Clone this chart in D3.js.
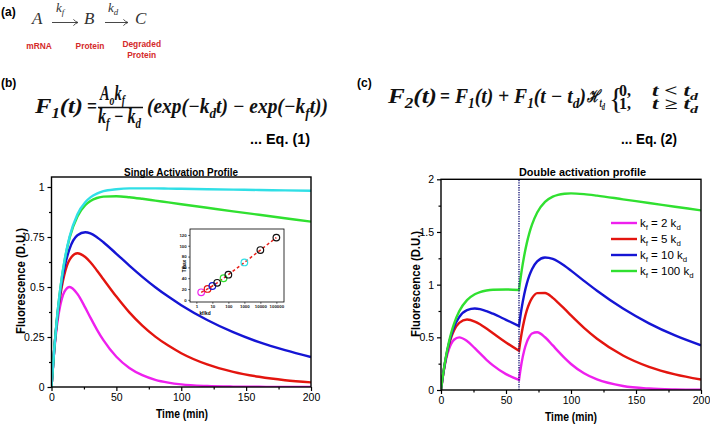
<!DOCTYPE html>
<html><head><meta charset="utf-8">
<script src="https://cdn.jsdelivr.net/npm/d3@7"></script>
<style>
html,body{margin:0;padding:0;background:#fff;}
svg{display:block;font-family:"Liberation Sans",Arial,sans-serif;}
</style></head><body>
<svg id="fig" width="710" height="424"></svg>
<script>
// ---------------- data ----------------
const timeSingle = [0,2,4,6,8,10,14,20,26,30,35,40,50,60,70,80,90,100,120,140,160,180,200];
const single_kf2    = [0,.172,.297,.384,.442,.477,.500,.465,.397,.347,.287,.234,.151,.095,.059,.036,.022,.013,.005,.002,.001,.0002,.0001];
const single_kf5    = [0,.178,.316,.423,.504,.564,.637,.669,.650,.624,.583,.539,.452,.373,.307,.252,.207,.169,.113,.076,.051,.034,.023];
const single_kf10   = [0,.179,.323,.437,.526,.597,.692,.759,.774,.768,.749,.724,.666,.607,.551,.499,.452,.409,.335,.274,.224,.184,.150];
const single_kf100  = [0,.181,.329,.450,.548,.628,.747,.853,.909,.930,.945,.952,.954,.949,.941,.932,.923,.914,.896,.878,.861,.844,.827];
const single_kf1000 = [0,.181,.330,.451,.551,.632,.753,.864,.924,.948,.967,.979,.989,.993,.993,.993,.992,.991,.989,.987,.985,.983,.981];

const timeDouble = [0,2,4,6,8,10,14,20,26,30,35,40,50,60,62,64,66,68,70,74,80,86,90,95,100,110,120,140,160,180,200];
const double_kf2   = [0,.172,.297,.384,.442,.477,.500,.465,.397,.347,.287,.234,.151,.095,.258,.375,.455,.507,.536,.548,.501,.423,.369,.305,.247,.159,.100,.038,.014,.005,.002];
const double_kf5   = [0,.178,.316,.423,.504,.564,.637,.669,.650,.624,.583,.539,.452,.373,.537,.661,.755,.823,.871,.920,.921,.874,.830,.770,.708,.590,.487,.328,.220,.148,.099];
const double_kf10  = [0,.179,.323,.437,.526,.597,.692,.759,.774,.768,.749,.724,.666,.607,.775,.907,1.010,1.088,1.147,1.221,1.258,1.244,1.220,1.179,1.133,1.036,.942,.773,.633,.518,.424];
const double_kf100 = [0,.181,.329,.450,.548,.628,.747,.853,.909,.930,.945,.952,.954,.949,1.129,1.275,1.394,1.491,1.569,1.685,1.786,1.836,1.853,1.863,1.866,1.859,1.845,1.810,1.775,1.740,1.705];
const activationDelay = 60;

const legendRatios = ["2","5","10","100"];

const insetRatio = [2,5,10,20,50,100,1000,10000,100000];
const insetTmax  = [13.9,20.1,25.6,31.5,39.9,46.5,69.1,92.1,115.1];

const timeTicks = [0,50,100,150,200];
const timeMinorTicks = [25,75,125,175];
const singleYTicks = [0,0.25,0.5,0.75,1];
const singleYMinor = [0.125,0.375,0.625,0.875];
const doubleYTicks = [0,0.5,1,1.5,2];
const doubleYMinor = [0.25,0.75,1.25,1.75];
const insetXTicks = [1,10,100,1000,10000,100000];
const insetYTicks = [0,20,40,60,80,100,120];

// ---------------- styles ----------------
const C_MAG="#ee20ee", C_RED="#e3150f", C_BLU="#1515d4", C_GRN="#30e030", C_CYN="#30dfe6";
const singleSeries = [[single_kf2,C_MAG],[single_kf5,C_RED],[single_kf10,C_BLU],[single_kf100,C_GRN],[single_kf1000,C_CYN]];
const doubleSeries = [[double_kf2,C_MAG],[double_kf5,C_RED],[double_kf10,C_BLU],[double_kf100,C_GRN]];
const legendColors = [C_MAG,C_RED,C_BLU,C_GRN];
const insetColors = [C_MAG,C_RED,C_BLU,"#111",C_GRN,"#111",C_CYN,"#111","#111"];
const EQF = "'Liberation Serif','Times New Roman',serif";
const SANS = "'Liberation Sans',Arial,sans-serif";

const svg = d3.select("#fig");

function rich(parent, x, y, parts, o) {
  const size = o.size;
  const t = parent.append("text").attr("x", x).attr("y", y).style("font-size", size+"px");
  t.style("font-family", o.family || SANS);
  if (o.weight) t.style("font-weight", o.weight);
  if (o.style) t.style("font-style", o.style);
  t.attr("fill", o.fill || "#000");
  if (o.anchor) t.attr("text-anchor", o.anchor);
  const sc=o.sc||[1,0.68,0.52], off=o.off||[0,0.26,0.42];
  let prev=0;
  parts.forEach(p => {
    const lvl = p[1]||0;
    const ts = t.append("tspan").text(p[0]).style("font-size", (size*sc[lvl])+"px");
    const dy = (off[lvl]-off[prev])*size;
    if (dy) ts.attr("dy", dy);
    prev=lvl;
  });
  if (o.len) t.attr("textLength", o.len).attr("lengthAdjust","spacingAndGlyphs");
  return t;
}

// ---------------- (a) reaction scheme ----------------
svg.append("text").attr("x",1).attr("y",16).style("font-size","12px").style("font-weight","bold").text("(a)");
const rs = {size:17, family:EQF, style:"italic", fill:"#333"};
rich(svg, 32, 24, [["A"]], rs);
rich(svg, 84, 24, [["B"]], rs);
rich(svg, 135, 24, [["C"]], rs);
const ks = {size:13, family:EQF, style:"italic", fill:"#333"};
rich(svg, 56, 12, [["k"],["f",1]], ks);
rich(svg, 108, 12, [["k"],["d",1]], ks);
[[52,78],[105,128]].forEach(([a,b])=>{
  svg.append("path").attr("d",`M${a},22.5H${b-0.5}M${b-4.5},19.3Q${b-2.5},22 ${b},22.5Q${b-2.5},23 ${b-4.5},25.7`)
    .attr("stroke","#333").attr("stroke-width",0.9).attr("fill","none");
});
const redLab = (x,y,s)=>svg.append("text").attr("x",x).attr("y",y).attr("text-anchor","middle")
  .style("font-size","8.4px").style("font-weight","bold").attr("fill","#d42a2a").text(s);
redLab(39,48.5,"mRNA"); redLab(90,48.5,"Protein"); redLab(141.7,46.5,"Degraded"); redLab(141.7,58,"Protein");

// ---------------- (b)/(c) equations ----------------
svg.append("text").attr("x",1).attr("y",87).style("font-size","12px").style("font-weight","bold").text("(b)");
svg.append("text").attr("x",357).attr("y",87).style("font-size","12px").style("font-weight","bold").text("(c)");
const eq = {size:20, family:EQF, weight:"bold", style:"italic", fill:"#111"};
const eqU = {size:20, family:EQF, weight:"bold", fill:"#111"};
rich(svg, 35, 113, [["F"],["1",1],["(t)"]], {...eq, len:48});
rich(svg, 87, 113, [["="]], {...eqU, len:10});
rich(svg, 100, 100, [["A"],["o",1],["k"],["f",1]], {...eq, len:25});
svg.append("line").attr("x1",98).attr("x2",143).attr("y1",107.5).attr("y2",107.5).attr("stroke","#111").attr("stroke-width",1.4);
rich(svg, 98, 123, [["k"],["f",1],[" − k"],["d",1]], {...eq, len:43});
rich(svg, 147, 113, [["(exp(−k"],["d",1],["t) − exp(−k"],["f",1],["t))"]], {...eq, len:181});
svg.append("text").attr("x",250).attr("y",144).style("font-size","15px").style("font-weight","bold")
  .attr("textLength",60).attr("lengthAdjust","spacingAndGlyphs").text("... Eq. (1)");

rich(svg, 388, 103, [["F"],["2",1],["(t)"]], {...eq, len:49});
rich(svg, 440, 103, [["="]], {...eqU, len:10});
rich(svg, 455, 103, [["F"],["1",1],["(t) + F"],["1",1],["(t − t"],["d",1],[")"]], {...eq, len:131});
rich(svg, 587, 102, [["ℋ"],["t",1],["d",2]], {size:17, family:EQF, weight:"bold", style:"italic", fill:"#111",
  sc:[1,0.72,0.55], off:[0,0.3,0.45], len:18});
svg.append("text").attr("x",609).attr("y",108).style("font-size","29px").style("font-family",EQF).attr("fill","#111").text("{");
const cs = {size:16, family:EQF, weight:"bold", fill:"#111"};
rich(svg, 619, 95.5, [["0,"]], cs);
rich(svg, 619, 108.5, [["1,"]], cs);
rich(svg, 652, 95.5, [["t <  t"],["d",1]], {...cs, style:"italic", len:46});
rich(svg, 652, 108.5, [["t ≥ t"],["d",1]], {...cs, style:"italic", len:46});
svg.append("text").attr("x",621).attr("y",144).style("font-size","15px").style("font-weight","bold")
  .attr("textLength",56).attr("lengthAdjust","spacingAndGlyphs").text("... Eq. (2)");

// ---------------- panel helper ----------------
function panel(o) {
  const g = svg.append("g");
  const x = d3.scaleLinear([0,200],[o.x0,o.x1]);
  const y = d3.scaleLinear(o.yDom,[o.y0,o.y1]);
  const clipId = o.id+"clip";
  svg.append("clipPath").attr("id",clipId).append("rect")
    .attr("x",o.x0).attr("y",o.y1).attr("width",o.x1-o.x0).attr("height",o.y0-o.y1);
  const fmt = d=>String(d);
  const ax = (gen, ticks, size, labels, tr) => {
    const a = g.append("g").attr("transform",tr)
      .call(gen.tickValues(ticks).tickSize(size).tickPadding(3).tickFormat(labels?fmt:""));
    a.select(".domain").remove();
    a.selectAll("line").attr("stroke","#000").attr("stroke-width",1.2);
    a.selectAll("text").style("font-size","10.5px").attr("fill","#000").style("font-family",SANS);
    return a;
  };
  ax(d3.axisBottom(x), timeTicks, 4, true, `translate(0,${o.y0})`);
  ax(d3.axisBottom(x), timeMinorTicks, 2.5, false, `translate(0,${o.y0})`);
  ax(d3.axisLeft(y), o.yTicks, 4, true, `translate(${o.x0},0)`);
  ax(d3.axisLeft(y), o.yMinor, 2.5, false, `translate(${o.x0},0)`);
  const lines = g.append("g").attr("clip-path",`url(#${clipId})`);
  o.draw(lines, x, y);
  g.append("rect").attr("x",o.x0).attr("y",o.y1).attr("width",o.x1-o.x0).attr("height",o.y0-o.y1)
    .attr("fill","none").attr("stroke","#000").attr("stroke-width",1.4);
  g.append("text").attr("x",o.titleX).attr("y",176).attr("text-anchor","middle").style("font-size","11.5px")
    .style("font-weight","bold").attr("textLength",o.titleLen).attr("lengthAdjust","spacingAndGlyphs").text(o.title);
  g.append("text").attr("transform",`translate(${o.ylabX},${o.ylabY}) rotate(-90)`).attr("text-anchor","middle")
    .style("font-size","13px").style("font-weight","bold").attr("textLength",106).attr("lengthAdjust","spacingAndGlyphs")
    .text("Fluorescence (D.U.)");
  g.append("text").attr("x",o.xlabX).attr("y",o.xlabY).attr("text-anchor","middle").style("font-size","13px")
    .style("font-weight","bold").attr("textLength",52).attr("lengthAdjust","spacingAndGlyphs").text("Time (min)");
  return {g,x,y};
}

// ---------------- single activation ----------------
panel({id:"p1", x0:51.5, x1:311, y0:387, y1:177, yDom:[0,1.05],
  yTicks:singleYTicks, yMinor:singleYMinor, title:"Single Activation Profile", titleX:181, titleLen:114,
  ylabX:24.5, ylabY:281, xlabX:182, xlabY:418,
  draw:(gl,x,y)=>{
    singleSeries.forEach(([vals,col])=>{
      const line = d3.line().x((d,i)=>x(timeSingle[i])).y(d=>y(d)).curve(d3.curveMonotoneX);
      gl.append("path").attr("d",line(vals)).attr("fill","none").attr("stroke",col).attr("stroke-width",2.4);
    });
  }});

// inset
(function(){
  const g = svg.append("g");
  const ix = d3.scaleLog([0.4,3e5],[190,284]);
  const iy = d3.scaleLinear([-4,131],[302,229]);
  g.append("rect").attr("x",190).attr("y",229).attr("width",94).attr("height",73).attr("fill","#fff");
  const axs = (gen, ticks, fmt, tr)=>{
    const a = g.append("g").attr("transform",tr).call(gen.tickValues(ticks).tickSize(1.8).tickPadding(1.5).tickFormat(fmt));
    a.select(".domain").remove();
    a.selectAll("line").attr("stroke","#000").attr("stroke-width",0.6);
    a.selectAll("text").style("font-size","4.4px").style("font-weight","bold").style("font-family",SANS).attr("fill","#222");
  };
  axs(d3.axisBottom(ix), insetXTicks, d=>String(d), "translate(0,302)");
  axs(d3.axisLeft(iy), insetYTicks, d=>String(d), "translate(190,0)");
  g.append("path").attr("d", d3.line().x((d,i)=>ix(insetRatio[i])).y(d=>iy(d))(insetTmax))
    .attr("fill","none").attr("stroke","#e8201a").attr("stroke-width",1.5).attr("stroke-dasharray","3,2.4");
  g.selectAll("circle.pt").data(insetTmax).join("circle").attr("class","pt")
    .attr("cx",(d,i)=>ix(insetRatio[i])).attr("cy",d=>iy(d)).attr("r",3.3)
    .attr("fill","none").attr("stroke",(d,i)=>insetColors[i]).attr("stroke-width",1.2);
  g.append("rect").attr("x",190).attr("y",229).attr("width",94).attr("height",73).attr("fill","none")
    .attr("stroke","#000").attr("stroke-width",0.8);
  g.append("text").attr("transform","translate(185.5,266) rotate(-90)").attr("text-anchor","middle")
    .style("font-size","4.8px").style("font-weight","bold").text("Tmax");
  g.append("text").attr("x",205).attr("y",314.5).attr("text-anchor","middle")
    .style("font-size","4.8px").style("font-weight","bold").text("kf/kd");
})();

// ---------------- double activation ----------------
panel({id:"p2", x0:441, x1:701, y0:390, y1:179.3, yDom:[0,2],
  yTicks:doubleYTicks, yMinor:doubleYMinor, title:"Double activation profile", titleX:582.5, titleLen:127,
  ylabX:419.5, ylabY:284, xlabX:571, xlabY:420.5,
  draw:(gl,x,y)=>{
    const pts = vals => vals.map((v,i)=>[timeDouble[i],v]);
    doubleSeries.forEach(([vals,col])=>{
      const line = d3.line().x(d=>x(d[0])).y(d=>y(d[1])).curve(d3.curveMonotoneX);
      const p = pts(vals);
      const path = line(p.filter(d=>d[0]<=activationDelay)) + line(p.filter(d=>d[0]>=activationDelay)).replace(/^M/,"L");
      gl.append("path").attr("d",path).attr("fill","none").attr("stroke",col).attr("stroke-width",2.4);
    });
    gl.append("line").attr("x1",x(activationDelay)).attr("x2",x(activationDelay)).attr("y1",y(0)).attr("y2",y(2))
      .attr("stroke","#1c1c7a").attr("stroke-width",1.4).attr("stroke-dasharray","1.3,1.1");
  }});

// legend
legendRatios.forEach((r,i)=>{
  const cy = 223 + i*16;
  svg.append("line").attr("x1",611).attr("x2",637).attr("y1",cy).attr("y2",cy).attr("stroke",legendColors[i]).attr("stroke-width",2.4);
  rich(svg, 640, cy+4, [["k"],["f",1],[" = "+r+" k"],["d",1]], {size:11.5, fill:"#000"});
});
</script>
</body></html>
